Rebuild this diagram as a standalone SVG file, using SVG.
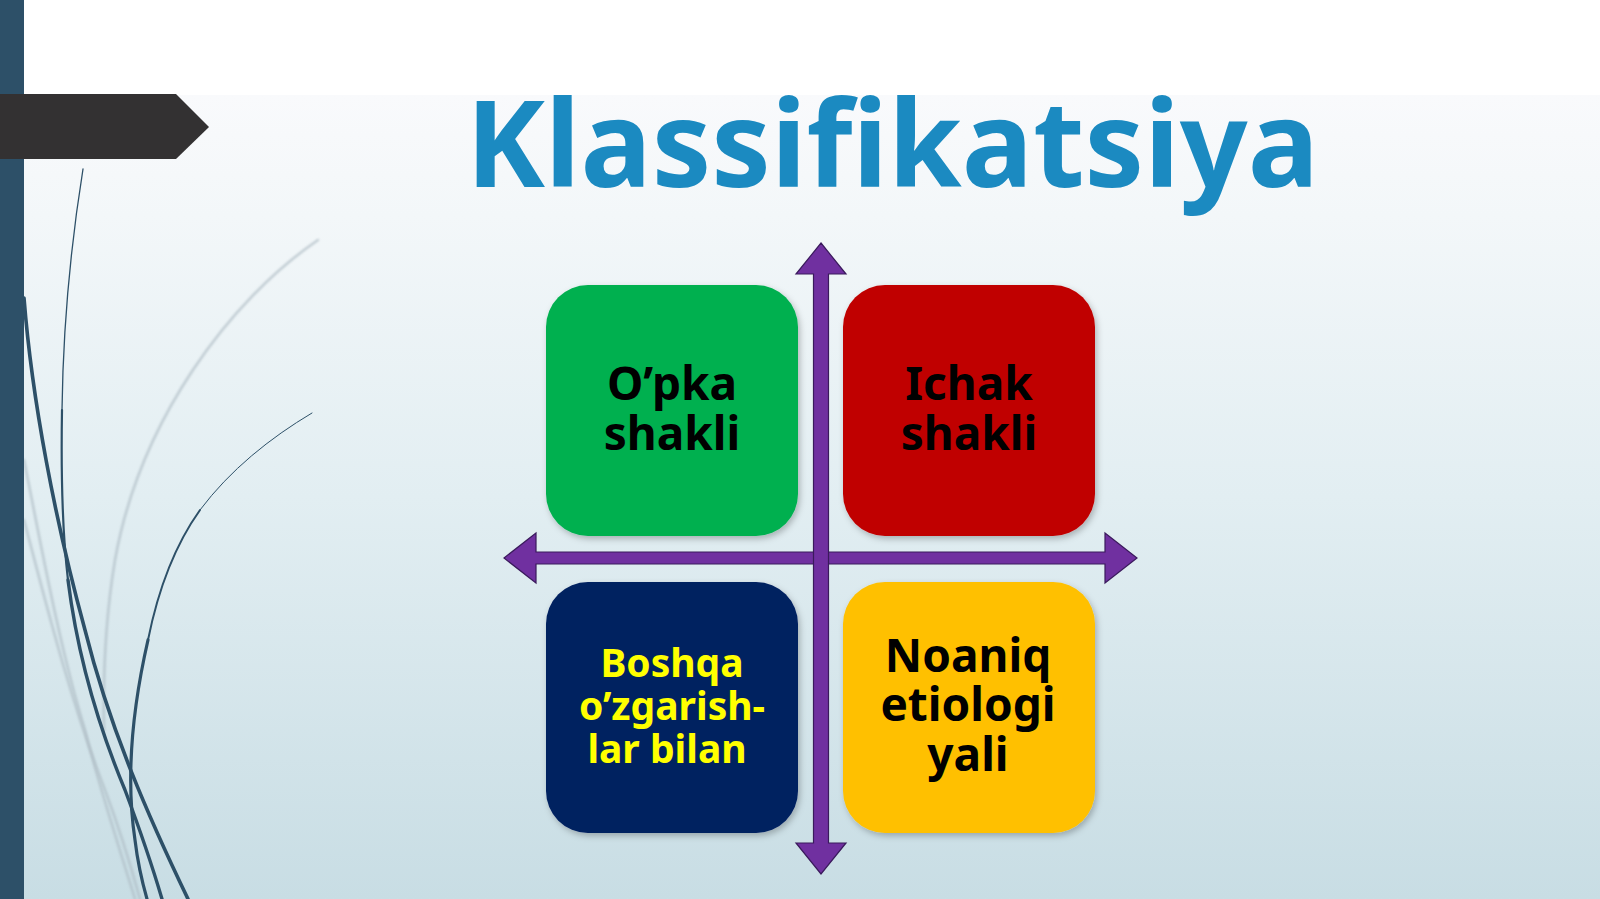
<svg xmlns="http://www.w3.org/2000/svg" width="1600" height="899" viewBox="0 0 1600 899">
  <defs>
    <linearGradient id="bg" gradientUnits="userSpaceOnUse" x1="0" y1="95" x2="0" y2="899">
      <stop offset="0" stop-color="#f9fafc"/>
      <stop offset="0.15" stop-color="#f3f7f9"/>
      <stop offset="0.5" stop-color="#e2eef2"/>
      <stop offset="1" stop-color="#c8dde4"/>
    </linearGradient>
    <filter id="shadow" x="-10%" y="-10%" width="125%" height="125%">
      <feDropShadow dx="2" dy="3" stdDeviation="3" flood-color="#000" flood-opacity="0.25"/>
    </filter>
    <filter id="soft" x="-20%" y="-20%" width="140%" height="140%">
      <feGaussianBlur stdDeviation="1.2"/>
    </filter>
    <style>
      .box { filter: url(#shadow); }
      .lbl { font-family: "Noto Sans", "Open Sans", "Liberation Sans", sans-serif; font-weight: bold; text-anchor: middle; }
      .blk { fill: #000000; font-size: 46px; }
      .ylw { fill: #ffff00; font-size: 39px; }
      .arrow { fill: #7030a0; stroke: #3a1a5c; stroke-width: 1.2; stroke-linejoin: miter; }
      .dark { fill: none; stroke: #2d5068; stroke-linecap: round; }
      .light { fill: none; stroke: #aebcc4; stroke-width: 2.5; stroke-linecap: round; opacity: 0.7; filter: url(#soft); }
    </style>
  </defs>

  <!-- background -->
  <rect x="0" y="0" width="1600" height="899" fill="url(#bg)"/>
  <rect x="0" y="0" width="1600" height="95" fill="#ffffff"/>

  <!-- decorative curves -->
  <g id="decor">
    <path class="light" d="M318,240 C230,300 140,420 115,560 C105,620 103,680 104,730"/>
    <path class="light" d="M24,460 C40,540 60,650 85,730 C100,790 120,850 135,899"/>
    <path class="light" d="M24,520 C45,600 70,700 105,790 C120,830 132,870 140,899"/>
    <path class="dark" stroke-width="1.3" d="M83,169 C70,250 63,330 62,410"/>
    <path class="dark" stroke-width="2.2" d="M62,410 C61,470 62,530 68,580"/>
    <path class="dark" stroke-width="3.4" d="M68,580 C78,660 100,730 125,790 C140,830 152,865 162,899"/>
    <path class="dark" stroke-width="3.6" d="M24,298 C32,400 55,520 85,630 C110,730 150,820 188,899"/>
    <path class="dark" stroke-width="1" d="M312,413 C270,438 230,470 200,510"/>
    <path class="dark" stroke-width="2" d="M200,510 C175,545 158,590 148,640"/>
    <path class="dark" stroke-width="3.2" d="M148,640 C132,710 126,780 135,840 C138,865 143,885 147,899"/>
  </g>

  <!-- left bar and banner -->
  <rect id="sidebar" x="0" y="0" width="24" height="899" fill="#2d5068"/>
  <polygon id="banner" points="0,94 176,94 209,127 176,159 0,159" fill="#333132"/>

  <!-- title -->
  <text id="title" x="466" y="187" textLength="853" lengthAdjust="spacingAndGlyphs" font-family="'Noto Sans', 'Open Sans', 'Liberation Sans', sans-serif" font-weight="bold" font-size="121" fill="#1b8ac1">Klassifikatsiya</text>

  <!-- nodes -->
  <g id="node-opka">
    <rect class="box" x="546" y="285" width="252" height="251" rx="42" fill="#00b050"/>
    <text class="lbl blk"><tspan x="672" y="400">O’pka</tspan><tspan x="672" y="450">shakli</tspan></text>
  </g>
  <g id="node-ichak">
    <rect class="box" x="843" y="285" width="252" height="251" rx="42" fill="#c00000"/>
    <text class="lbl blk"><tspan x="969" y="400">Ichak</tspan><tspan x="969" y="450">shakli</tspan></text>
  </g>
  <g id="node-boshqa">
    <rect class="box" x="546" y="582" width="252" height="251" rx="42" fill="#002060"/>
    <text class="lbl ylw"><tspan x="672" y="677">Boshqa</tspan><tspan x="672" y="720">o’zgarish-</tspan><tspan x="667" y="763">lar bilan</tspan></text>
  </g>
  <g id="node-noaniq">
    <rect class="box" x="843" y="582" width="252" height="251" rx="42" fill="#ffc000"/>
    <text class="lbl blk"><tspan x="968" y="672">Noaniq</tspan><tspan x="968" y="721">etiologi</tspan><tspan x="968" y="771">yali</tspan></text>
  </g>

  <!-- connectors (axis arrows) -->
  <g id="connectors">
    <polygon class="arrow" points="504,558 536,533 536,552 1105,552 1105,533 1137,558 1105,583 1105,564 536,564 536,583"/>
    <polygon class="arrow" points="821,243 846,274 828.5,274 828.5,843 846,843 821,874 796,843 813.5,843 813.5,274 796,274"/>
  </g>
</svg>
